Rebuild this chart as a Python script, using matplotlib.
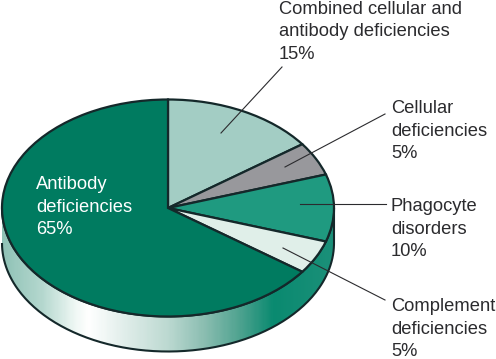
import matplotlib
matplotlib.use("Agg")
import matplotlib.pyplot as plt
import numpy as np
from matplotlib.colors import LinearSegmentedColormap
from matplotlib.patches import PathPatch
from matplotlib.path import Path

plt.rcParams["font.family"] = ["Liberation Sans", "DejaVu Sans"]

# clockwise from 12 o'clock
categories = ["Combined cellular and\nantibody deficiencies", "Cellular\ndeficiencies",
              "Phagocyte\ndisorders", "Complement\ndeficiencies", "Antibody\ndeficiencies"]
shares = [15, 5, 10, 5, 65]
colors = ["#a3cdc4", "#98989c", "#1f9a80", "#e0efe9", "#007b60"]

W, H = 496, 359
CX, CY, RX, RY, DEPTH = 168, 208, 166, 108.5, 35
EDGE = "#14282a"
PAD = 1.1

fig = plt.figure(figsize=(W / 100, H / 100), dpi=100)

# pixel coordinate layer for the side band, labels and leaders
bg = fig.add_axes([0, 0, 1, 1], zorder=1)
bg.set_xlim(0, W)
bg.set_ylim(H, 0)
bg.axis("off")

# side of the disc with the horizontal shading
t = np.linspace(np.pi, 0, 200)
xs = CX + RX * np.cos(t)
lower = CY + RY * np.sin(t)
verts = np.vstack([np.column_stack([xs, lower + DEPTH]), np.column_stack([xs[::-1], lower[::-1]])])
side = PathPatch(Path(verts), facecolor="none", edgecolor=EDGE, lw=1.5, zorder=3)
bg.add_patch(side)
shade = LinearSegmentedColormap.from_list("side", [
    (0.0, "#8fc2b6"), (0.12, "#b5d8cf"), (0.22, "#f0f8f5"), (0.26, "#ffffff"),
    (0.50, "#bcd9d1"), (0.62, "#86bbae"), (0.72, "#4da28f"), (0.82, "#0a8a70"), (1.0, "#1b9079")])
img = bg.imshow(np.linspace(0, 1, 300)[None, :], cmap=shade, aspect="auto",
                extent=[CX - RX, CX + RX, CY + RY + DEPTH, CY - RY], zorder=2)
img.set_clip_path(side)
bg.set_xlim(0, W)
bg.set_ylim(H, 0)

# top of the disc, squashed into an ellipse by the axes box
ax = fig.add_axes([(CX - RX * PAD) / W, 1 - (CY + RY * PAD) / H,
                   2 * RX * PAD / W, 2 * RY * PAD / H], zorder=2)
ax.pie(shares, colors=colors, startangle=90, counterclock=False, radius=1,
       wedgeprops=dict(edgecolor=EDGE, linewidth=1.6))
ax.set_aspect("auto")
ax.set_xlim(-PAD, PAD)
ax.set_ylim(-PAD, PAD)
ax.patch.set_alpha(0)

# labels and leaders on top
top = fig.add_axes([0, 0, 1, 1], zorder=3)
top.set_xlim(0, W)
top.set_ylim(H, 0)
top.axis("off")

label_pos = [(279, 32), (391, 131), (391, 229), (391, 329), (36, 207)]
leaders = [((282, 67), (221, 133)), ((385, 114), (285, 167)), ((386, 204), (300, 204)),
           ((385, 300), (283, 248))]

for name, share, (x, y) in zip(categories, shares, label_pos):
    col = "white" if name.startswith("Antibody") else "#2b2b2e"
    top.text(x, y, f"{name}\n{share}%", fontsize=13.2, color=col, ha="left", va="center",
             linespacing=1.43)

for a, b in leaders:
    top.plot([a[0], b[0]], [a[1], b[1]], color="#2b2b2e", lw=0.8)

fig.savefig("out.png", dpi=100, facecolor="white")
